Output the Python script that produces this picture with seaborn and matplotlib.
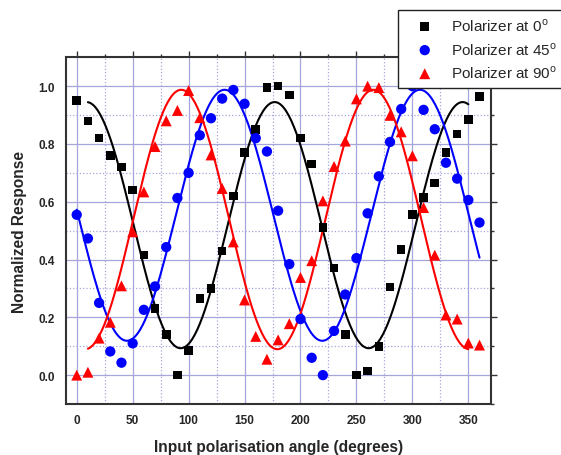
import numpy as np
import pandas as pd
import matplotlib
matplotlib.use('Agg')
import matplotlib.pyplot as plt
import seaborn as sns
from matplotlib.ticker import MultipleLocator

# measured responses, one reading every 10 degrees
angles = list(range(0, 361, 10))
pol_0 = [0.95, 0.88, 0.82, 0.76, 0.72, 0.64, 0.415, 0.23, 0.14, 0.00,
         0.085, 0.265, 0.30, 0.43, 0.62, 0.77, 0.85, 0.995, 1.00, 0.97,
         0.82, 0.73, 0.51, 0.37, 0.14, 0.00, 0.015, 0.10, 0.305, 0.435,
         0.555, 0.615, 0.665, 0.77, 0.835, 0.885, 0.965]
pol_45 = [0.555, 0.473, 0.25, 0.082, 0.043, 0.11, 0.226, 0.307, 0.443, 0.613,
          0.70, 0.83, 0.889, 0.957, 0.987, 0.939, 0.82, 0.774, 0.569, 0.384,
          0.194, 0.06, 0.00, 0.153, 0.279, 0.405, 0.56, 0.688, 0.807, 0.921,
          1.00, 0.918, 0.851, 0.735, 0.68, 0.606, 0.528]
pol_90 = [0.00, 0.01, 0.128, 0.183, 0.309, 0.496, 0.634, 0.791, 0.88, 0.916,
          0.985, 0.891, 0.762, 0.646, 0.461, 0.26, 0.134, 0.055, 0.122, 0.178,
          0.338, 0.396, 0.603, 0.722, 0.81, 0.956, 1.00, 0.995, 0.899, 0.842,
          0.759, 0.58, 0.415, 0.208, 0.194, 0.111, 0.104]

labels = ['Polarizer at 0$^\\mathrm{o}$', 'Polarizer at 45$^\\mathrm{o}$',
          'Polarizer at 90$^\\mathrm{o}$']
colors = ['black', '#0000ff', '#ff0000']
markers = ['s', 'o', '^']
msizes = [38, 55, 62]
# angle span over which each fitted curve is drawn
fit_spans = [(10, 350), (0, 360), (10, 350)]


def sine_fit(x, y):
    # least squares y = a + b sin(kx) + c cos(kx), scanning the period
    x = np.asarray(x, float)
    y = np.asarray(y, float)
    best = None
    for period in np.arange(140, 200, 0.05):
        k = 2 * np.pi / period
        M = np.column_stack([np.ones_like(x), np.sin(k * x), np.cos(k * x)])
        coef = np.linalg.lstsq(M, y, rcond=None)[0]
        err = np.sum((M @ coef - y) ** 2)
        if best is None or err < best[0]:
            best = (err, k, coef)
    _, k, coef = best
    return lambda t: coef[0] + coef[1] * np.sin(k * t) + coef[2] * np.cos(k * t)


sns.set_style('white')
plt.rcParams['font.family'] = ['Liberation Sans', 'DejaVu Sans']
plt.rcParams['mathtext.fontset'] = 'custom'
plt.rcParams['mathtext.rm'] = 'Liberation Sans'

fig = plt.figure(figsize=(5.61, 4.56), dpi=100)
ax = fig.add_axes([0.1168, 0.1118, 0.8747 - 0.1168, 0.8722 - 0.1118])

grid_c = '#a6a6dc'
ax.xaxis.set_major_locator(MultipleLocator(50))
ax.xaxis.set_minor_locator(MultipleLocator(25))
ax.yaxis.set_major_locator(MultipleLocator(0.2))
ax.yaxis.set_minor_locator(MultipleLocator(0.1))
ax.grid(which='major', color=grid_c, lw=0.9, ls='-')
ax.grid(which='minor', color=grid_c, lw=0.9, ls=':')
ax.set_axisbelow(True)

handles = []
for vals, lab, c, m, s, span in zip([pol_0, pol_45, pol_90], labels, colors,
                                    markers, msizes, fit_spans):
    f = sine_fit(angles, vals)
    xs = np.linspace(span[0], span[1], 300)
    sns.lineplot(x=xs, y=f(xs), color=c, lw=1.5, ax=ax, zorder=2)
    sns.scatterplot(x=angles, y=vals, marker=m, color=c, s=s, edgecolor='none',
                    ax=ax, zorder=3, label=lab)
    handles.append(ax.collections[-1])

ax.get_legend().remove()
ax.set_xlim(-10, 370)
ax.set_ylim(-0.1, 1.1)
ax.set_xlabel('Input polarisation angle (degrees)', fontsize=11.2,
              fontweight='bold', labelpad=9)
ax.set_ylabel('Normalized Response', fontsize=11.2, fontweight='bold',
              labelpad=8)
ax.set_yticks([0.0, 0.2, 0.4, 0.6, 0.8, 1.0])
ax.tick_params(which='both', direction='out', top=True, right=True,
               labeltop=False, labelright=False, color='#333333', width=1)
ax.tick_params(which='major', length=4, labelsize=8.5)
ax.tick_params(which='minor', length=2.5)
for lbl in ax.get_xticklabels() + ax.get_yticklabels():
    lbl.set_fontweight('bold')
for sp in ax.spines.values():
    sp.set_color('#333333')
    sp.set_linewidth(1.5)

leg = fig.legend(handles=handles, labels=labels, loc='upper left',
                 bbox_to_anchor=(398 / 561, 1 - 11 / 456), fontsize=11,
                 frameon=True, fancybox=False, edgecolor='#222222',
                 framealpha=1, borderpad=0.45, labelspacing=0.45,
                 handletextpad=0.4, handlelength=2.6, borderaxespad=0)
leg.get_frame().set_linewidth(1.0)

fig.savefig('out.png', dpi=100)
